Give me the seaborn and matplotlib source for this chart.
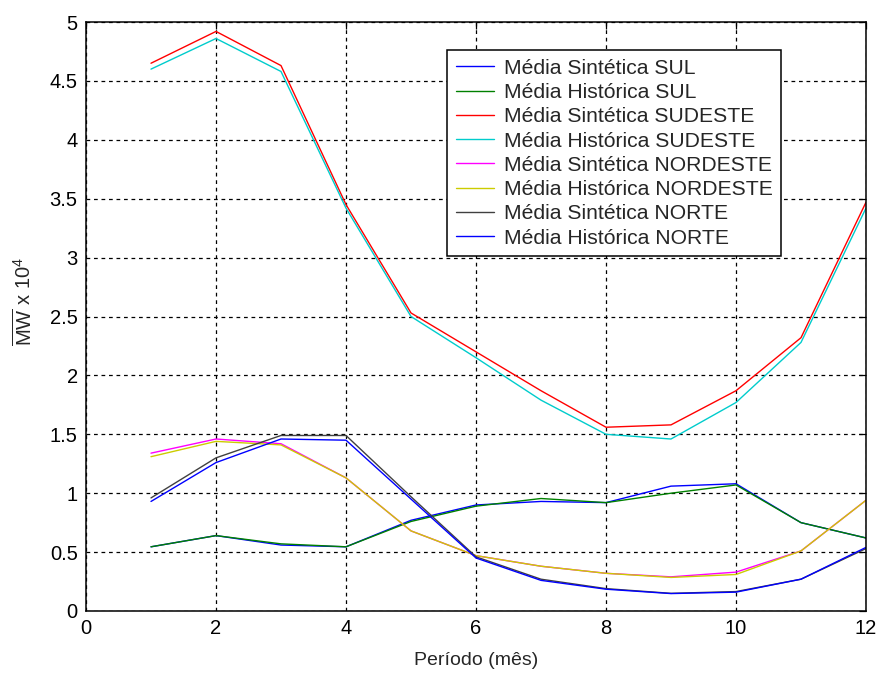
import numpy as np
import pandas as pd
import matplotlib
matplotlib.use("Agg")
import matplotlib.pyplot as plt
import seaborn as sns

# Months
periodo = [1, 2, 3, 4, 5, 6, 7, 8, 9, 10, 11, 12]

# Values in MW x 10^4
sint_sul = [0.545, 0.64, 0.56, 0.545, 0.77, 0.90, 0.93, 0.92, 1.06, 1.08, 0.75, 0.62]
hist_sul = [0.545, 0.64, 0.57, 0.545, 0.76, 0.89, 0.955, 0.92, 1.00, 1.07, 0.75, 0.62]
sint_sudeste = [4.65, 4.92, 4.63, 3.45, 2.53, 2.20, 1.87, 1.56, 1.58, 1.87, 2.32, 3.47]
hist_sudeste = [4.60, 4.86, 4.58, 3.42, 2.50, 2.15, 1.79, 1.50, 1.46, 1.77, 2.28, 3.42]
sint_nordeste = [1.34, 1.46, 1.42, 1.13, 0.68, 0.47, 0.38, 0.32, 0.29, 0.33, 0.51, 0.94]
hist_nordeste = [1.31, 1.44, 1.41, 1.13, 0.68, 0.47, 0.38, 0.32, 0.285, 0.31, 0.51, 0.94]
sint_norte = [0.96, 1.30, 1.49, 1.49, 0.97, 0.46, 0.27, 0.19, 0.15, 0.165, 0.27, 0.53]
hist_norte = [0.93, 1.26, 1.46, 1.45, 0.95, 0.45, 0.26, 0.185, 0.148, 0.16, 0.27, 0.54]

series = [
    ("Média Sintética SUL", sint_sul, "#0000FF"),
    ("Média Histórica SUL", hist_sul, "#008000"),
    ("Média Sintética SUDESTE", sint_sudeste, "#FF0000"),
    ("Média Histórica SUDESTE", hist_sudeste, "#00CCCC"),
    ("Média Sintética NORDESTE", sint_nordeste, "#FF00FF"),
    ("Média Histórica NORDESTE", hist_nordeste, "#CCCC00"),
    ("Média Sintética NORTE", sint_norte, "#404040"),
    ("Média Histórica NORTE", hist_norte, "#0000FF"),
]

sns.set_style("white")
plt.rcParams["font.family"] = ["Liberation Sans", "DejaVu Sans"]
plt.rcParams["mathtext.fontset"] = "custom"
plt.rcParams["mathtext.rm"] = "Liberation Sans"
plt.rcParams["mathtext.it"] = "Liberation Sans"

fig = plt.figure(figsize=(8.79, 6.76), dpi=100)
ax = fig.add_axes([86 / 879, 65 / 676, 780 / 879, 589 / 676])

for label, vals, color in series:
    df = pd.DataFrame({"Periodo": periodo, "MW": vals})
    sns.lineplot(data=df, x="Periodo", y="MW", ax=ax, color=color,
                 linewidth=1.0, label=label)

ax.set_xlim(0, 12)
ax.set_ylim(0, 5)
ax.set_xticks(np.arange(0, 13, 2))
ax.set_yticks(np.arange(0, 5.01, 0.5))
ax.set_yticklabels(["0", "0.5", "1", "1.5", "2", "2.5", "3", "3.5", "4", "4.5", "5"])

# matlab-ish grid and box
ax.grid(True, color="black", linestyle=(0, (3, 3)), linewidth=0.9)
ax.tick_params(direction="in", length=5, width=0.9, labelsize=14.5, top=True, right=True,
               colors="black", pad=6)
for s in ax.spines.values():
    s.set_visible(True)
    s.set_color("black")
    s.set_linewidth(1.1)

ax.set_xlabel("Período (mês)", fontsize=14, labelpad=10)
ax.set_ylabel(r"$\overline{\mathrm{MW}}$ x 10$^{4}$", fontsize=14.5)
ax.yaxis.set_label_coords(-0.065, 0.525)

leg = ax.legend(loc="upper left", bbox_to_anchor=(0.463, 0.952), fontsize=15.2,
                frameon=True, fancybox=False, edgecolor="black", framealpha=1,
                labelspacing=0.25, handlelength=1.8, handletextpad=0.5,
                borderpad=0.4, borderaxespad=0)
leg.get_frame().set_linewidth(1.1)

fig.savefig("out.png", dpi=100, facecolor="white")
